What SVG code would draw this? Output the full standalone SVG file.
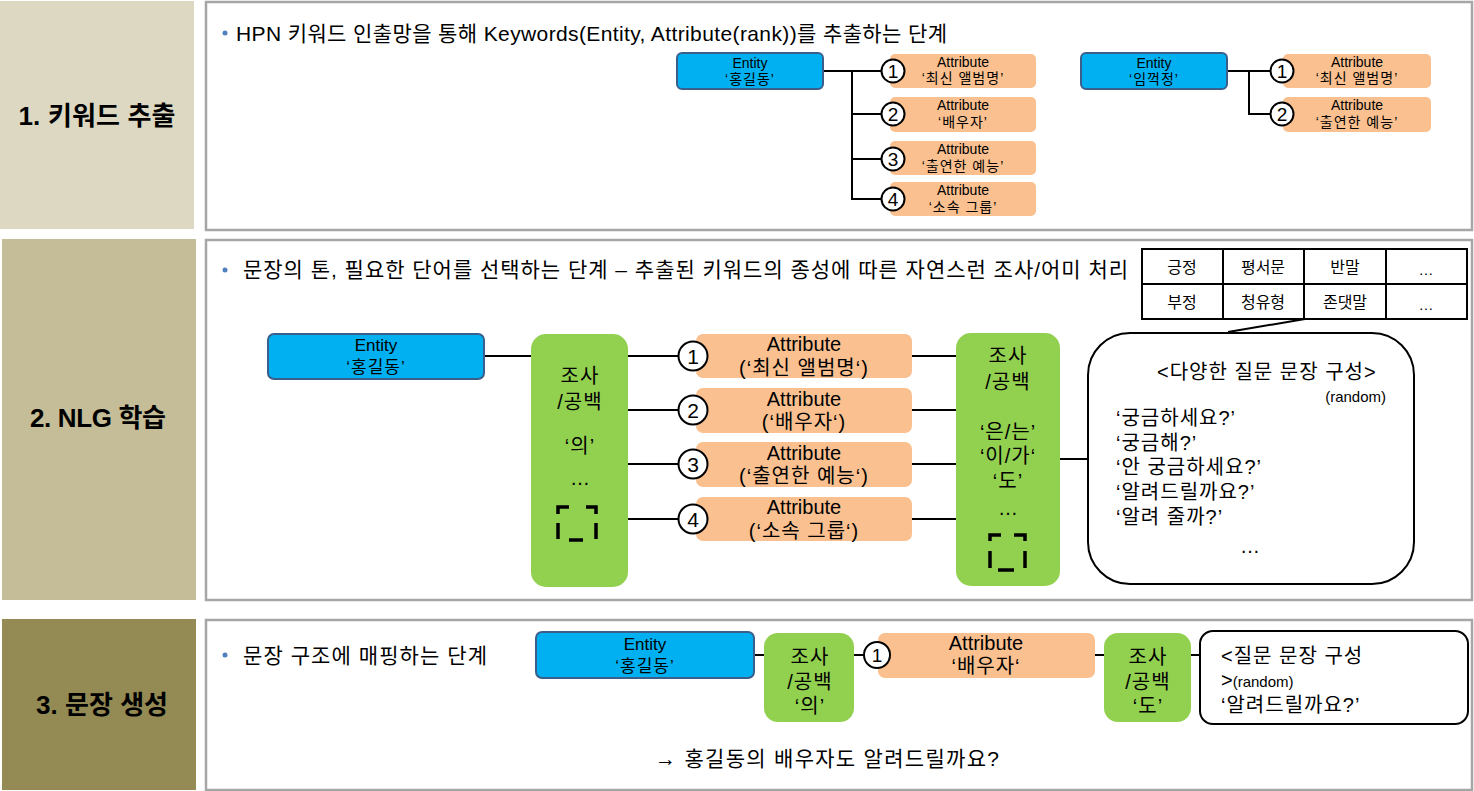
<svg xmlns="http://www.w3.org/2000/svg" width="1474" height="791" viewBox="0 0 1474 791">
<style>
text{font-family:"Liberation Sans","Noto Sans CJK KR",sans-serif;fill:#000}
.ttl{font-size:26px;font-weight:bold;text-anchor:middle}
.hdr{font-size:21px}
.box{fill:#fff;stroke:#A6A6A6;stroke-width:2.5}
.ent{fill:#00B0F0;stroke:#3A5F8C;stroke-width:2}
.att{fill:#FAC090}
.grn{fill:#92D050}
.c{text-anchor:middle}
.s13{font-size:14px}
.k13{font-size:14px;letter-spacing:1px}
.s20{font-size:20px}
.k20{font-size:20px;letter-spacing:1px}
.num{fill:#fff;stroke:#000;stroke-width:2}
.ln{stroke:#000;stroke-width:2;fill:none}
.brk{stroke:#000;stroke-width:3.5;fill:none}
.bul{fill:#4F81BD}
</style>

<g id="panel1"><rect x="0" y="1" width="194" height="228" fill="#DDD8C2"/><text class="ttl" x="97" y="125" textLength="157">1. 키워드 추출</text></g>
<g id="panel2"><rect x="2" y="239" width="194" height="361" fill="#C4BD97"/><text class="ttl" x="98" y="427" textLength="136">2. NLG 학습</text></g>
<g id="panel3"><rect x="2" y="619" width="194" height="171" fill="#948A54"/><text class="ttl" x="102" y="714" textLength="132">3. 문장 생성</text></g>

<g id="box1"><rect class="box" x="206" y="2" width="1266" height="228"/>
<circle class="bul" cx="225" cy="33" r="2.5"/>
<text class="hdr" x="236" y="41" textLength="711">HPN 키워드 인출망을 통해 Keywords(Entity, Attribute(rank))를 추출하는 단계</text></g>
<g id="box2"><rect class="box" x="206" y="240" width="1266" height="360"/>
<circle class="bul" cx="225" cy="270" r="2.5"/>
<text class="hdr" x="243" y="277" textLength="885">문장의 톤, 필요한 단어를 선택하는 단계 – 추출된 키워드의 종성에 따른 자연스런 조사/어미 처리</text></g>
<g id="box3"><rect class="box" x="206" y="620" width="1266" height="170"/>
<circle class="bul" cx="225" cy="655" r="2.5"/>
<text class="hdr" x="243" y="663" textLength="244">문장 구조에 매핑하는 단계</text></g>

<g id="connectors">
<path class="ln" d="M823,71 H890 M852,71 V199 H890 M852,114 H890 M852,159 H890"/>
<path class="ln" d="M1228,71 H1280 M1249,71 V114 H1280"/>
<path class="ln" d="M485,356 H531 M628,356 H690 M628,410 H690 M628,464 H690 M628,519 H690"/>
<path class="ln" d="M912,356 H956 M912,410 H956 M912,464 H956 M912,519 H956"/>
<path class="ln" stroke-width="2.5" d="M1060,459 H1088"/>
<path class="ln" d="M1305,319 L1228,332"/>
<path class="ln" d="M754,655 H764 M854,655 H870 M1095,655 H1104 M1191,655 H1200"/>
</g>

<g id="s1-entity1"><rect class="ent" x="677" y="53" width="146" height="36" rx="5"/>
<text class="c s13" x="750" y="68">Entity</text><text class="c k13" x="750" y="84">‘홍길동’</text></g>
<g id="s1-attr1"><rect class="att" x="890" y="54" width="146" height="34" rx="5"/><circle class="num" cx="893" cy="71" r="11.5"/><text class="c" font-size="19" x="893" y="78">1</text>
<text class="c s13" x="963" y="67">Attribute</text><text class="c k13" x="963" y="83">‘최신 앨범명’</text></g>
<g id="s1-attr2"><rect class="att" x="890" y="97" width="146" height="35" rx="5"/><circle class="num" cx="893" cy="114" r="11.5"/><text class="c" font-size="19" x="893" y="121">2</text>
<text class="c s13" x="963" y="110">Attribute</text><text class="c k13" x="963" y="127">‘배우자’</text></g>
<g id="s1-attr3"><rect class="att" x="890" y="141" width="146" height="34" rx="5"/><circle class="num" cx="893" cy="159" r="11.5"/><text class="c" font-size="19" x="893" y="166">3</text>
<text class="c s13" x="963" y="154">Attribute</text><text class="c k13" x="963" y="171">‘출연한 예능’</text></g>
<g id="s1-attr4"><rect class="att" x="890" y="182" width="146" height="34" rx="5"/><circle class="num" cx="893" cy="199" r="11.5"/><text class="c" font-size="19" x="893" y="206">4</text>
<text class="c s13" x="963" y="195">Attribute</text><text class="c k13" x="963" y="212">‘소속 그룹’</text></g>

<g id="s1-entity2"><rect class="ent" x="1081" y="53" width="146" height="36" rx="5"/>
<text class="c s13" x="1154" y="68">Entity</text><text class="c k13" x="1154" y="84">‘임꺽정’</text></g>
<g id="s1-attr5"><rect class="att" x="1283" y="54" width="148" height="34" rx="5"/><circle class="num" cx="1282" cy="71" r="11.5"/><text class="c" font-size="19" x="1282" y="78">1</text>
<text class="c s13" x="1357" y="67">Attribute</text><text class="c k13" x="1357" y="83">‘최신 앨범명’</text></g>
<g id="s1-attr6"><rect class="att" x="1283" y="97" width="148" height="35" rx="5"/><circle class="num" cx="1282" cy="114" r="11.5"/><text class="c" font-size="19" x="1282" y="121">2</text>
<text class="c s13" x="1357" y="110">Attribute</text><text class="c k13" x="1357" y="127">‘출연한 예능’</text></g>

<g id="s2-entity"><rect class="ent" x="268" y="334" width="216" height="45" rx="6"/>
<text class="c" font-size="17" x="376" y="351">Entity</text><text class="c" font-size="17" letter-spacing="1" x="376" y="373">‘홍길동’</text></g>
<g id="s2-josa1"><rect class="grn" x="531" y="334" width="97" height="253" rx="15"/>
<text class="c k20" x="580" y="383">조사</text><text class="c k20" x="580" y="409">/공백</text>
<text class="c k20" x="580" y="453">‘의’</text><text class="c s20" x="580" y="485">…</text>
<path class="brk" d="M558,514 V507 H569 M586,507 H596 V514 M558,523 V539 M596,523 V539 M569,540 H583"/></g>
<g id="s2-attr1"><rect class="att" x="696" y="334" width="216" height="44" rx="7"/><circle class="num" cx="693" cy="356" r="14.5"/><text class="c" font-size="21" x="693" y="363.5">1</text>
<text class="c s20" x="804" y="351">Attribute</text><text class="c k20" x="804" y="375">(‘최신 앨범명‘)</text></g>
<g id="s2-attr2"><rect class="att" x="696" y="388" width="216" height="45" rx="7"/><circle class="num" cx="693" cy="410" r="14.5"/><text class="c" font-size="21" x="693" y="417.5">2</text>
<text class="c s20" x="804" y="406">Attribute</text><text class="c k20" x="804" y="429">(‘배우자‘)</text></g>
<g id="s2-attr3"><rect class="att" x="696" y="442" width="216" height="45" rx="7"/><circle class="num" cx="693" cy="464" r="14.5"/><text class="c" font-size="21" x="693" y="471.5">3</text>
<text class="c s20" x="804" y="460">Attribute</text><text class="c k20" x="804" y="483">(‘출연한 예능‘)</text></g>
<g id="s2-attr4"><rect class="att" x="696" y="497" width="216" height="44" rx="7"/><circle class="num" cx="693" cy="519" r="14.5"/><text class="c" font-size="21" x="693" y="526.5">4</text>
<text class="c s20" x="804" y="514">Attribute</text><text class="c k20" x="804" y="538">(‘소속 그룹‘)</text></g>
<g id="s2-josa2"><rect class="grn" x="956" y="333" width="104" height="253" rx="15"/>
<text class="c k20" x="1008" y="363">조사</text><text class="c k20" x="1008" y="389">/공백</text>
<text class="c k20" x="1008" y="439">‘은/는’</text><text class="c k20" x="1008" y="463">‘이/가‘</text>
<text class="c k20" x="1008" y="488">‘도’</text><text class="c s20" x="1008" y="515">…</text>
<path class="brk" d="M990,541 V535 H1001 M1014,535 H1025 V541 M990,551 V568 M1025,551 V568 M998,570 H1014"/></g>
<g id="s2-bubble"><rect x="1088" y="333" width="326" height="251" rx="42" fill="#fff" stroke="#000" stroke-width="2"/>
<text class="k20" x="1157" y="379">&lt;다양한 질문 문장 구성&gt;</text>
<text font-size="15" x="1386" y="402" text-anchor="end">(random)</text>
<text class="k20" x="1116" y="425">‘궁금하세요?’</text>
<text class="k20" x="1116" y="450">‘궁금해?’</text>
<text class="k20" x="1116" y="474">‘안 궁금하세요?’</text>
<text class="k20" x="1116" y="499">‘알려드릴까요?’</text>
<text class="k20" x="1116" y="524">‘알려 줄까?’</text>
<text class="c s20" x="1250" y="553">…</text></g>
<g id="s2-table">
<rect x="1142" y="249" width="325" height="70" fill="#fff" stroke="#000" stroke-width="2"/>
<path class="ln" d="M1142,284 H1467 M1223,249 V319 M1304,249 V319 M1386,249 V319"/>
<text class="c" font-size="16" x="1182" y="273">긍정</text><text class="c" font-size="16" x="1263" y="273">평서문</text><text class="c" font-size="16" x="1345" y="273">반말</text><text class="c" font-size="15" x="1426" y="275">…</text>
<text class="c" font-size="16" x="1182" y="308">부정</text><text class="c" font-size="16" x="1263" y="308">청유형</text><text class="c" font-size="16" x="1345" y="308">존댓말</text><text class="c" font-size="15" x="1426" y="310">…</text>
</g>

<g id="s3-entity"><rect class="ent" x="536" y="632" width="218" height="46" rx="6"/>
<text class="c" font-size="17" x="645" y="650">Entity</text><text class="c" font-size="17" letter-spacing="1" x="645" y="672">‘홍길동’</text></g>
<g id="s3-josa1"><rect class="grn" x="764" y="633" width="90" height="89" rx="14"/>
<text class="c k20" x="810" y="664">조사</text><text class="c k20" x="810" y="689">/공백</text><text class="c k20" x="810" y="713">‘의’</text></g>
<g id="s3-attr"><rect class="att" x="878" y="633" width="217" height="45" rx="7"/><circle class="num" cx="877" cy="655" r="13"/><text class="c" font-size="19" x="877" y="662">1</text>
<text class="c s20" x="986" y="650">Attribute</text><text class="c k20" x="986" y="673">‘배우자‘</text></g>
<g id="s3-josa2"><rect class="grn" x="1104" y="633" width="87" height="89" rx="14"/>
<text class="c k20" x="1148" y="664">조사</text><text class="c k20" x="1148" y="689">/공백</text><text class="c k20" x="1148" y="713">‘도’</text></g>
<g id="s3-bubble"><rect x="1200" y="631" width="268" height="93" rx="13" fill="#fff" stroke="#000" stroke-width="2"/>
<text class="k20" x="1221" y="663">&lt;질문 문장 구성</text>
<text x="1221" y="687"><tspan font-size="20">&gt;</tspan><tspan font-size="15">(random)</tspan></text>
<text class="k20" x="1221" y="712">‘알려드릴까요?’</text></g>
<g id="s3-result"><text font-size="21" letter-spacing="1" x="655" y="766" textLength="345">→ 홍길동의 배우자도 알려드릴까요?</text></g>
</svg>
